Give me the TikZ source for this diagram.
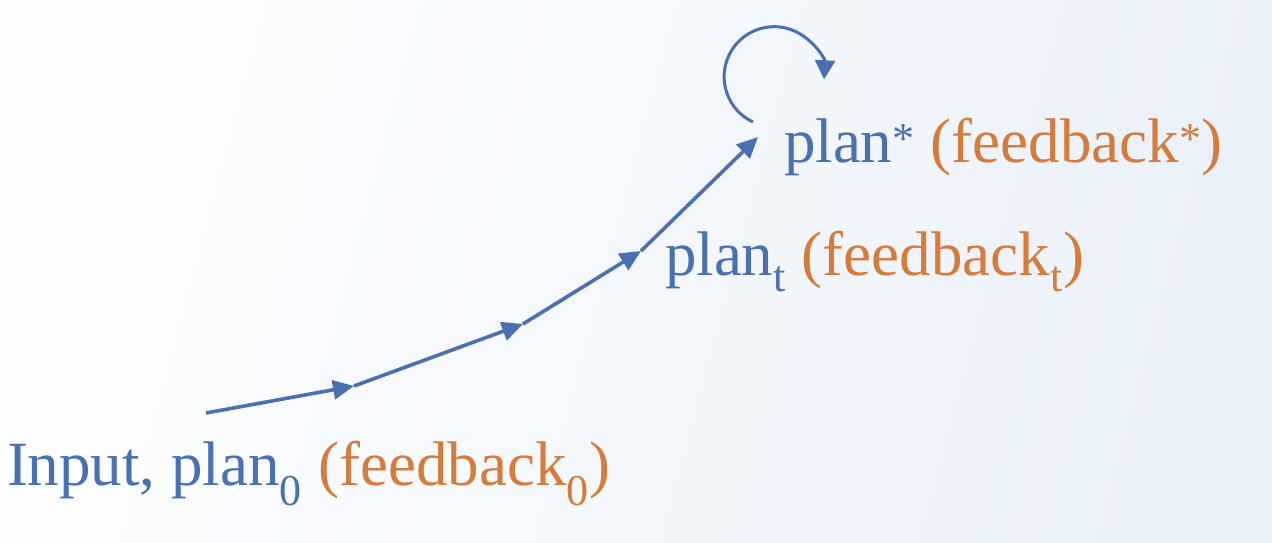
\documentclass[tikz,border=0pt]{standalone}
\usepackage{fontspec}
\setmainfont{Liberation Serif}
\usetikzlibrary{arrows.meta}
\definecolor{planblue}{HTML}{4A70B0}
\definecolor{fborange}{HTML}{D57C3C}
\definecolor{bgwhite}{HTML}{FDFEFF}
\definecolor{bgblue}{HTML}{EBF1F9}
\tikzset{
  lbl/.style={anchor=base west, inner sep=0pt, outer sep=0pt, font=\fontsize{63}{70}\selectfont, text=planblue},
  stepline/.style={draw=planblue, line width=3.6pt, -{Triangle[length=21pt,width=19pt]}},
  loopline/.style={draw=planblue, line width=3pt, -{Triangle[length=19pt,width=20pt]}}
}
\newcommand{\fb}[1]{\textcolor{fborange}{#1}}
\begin{document}
\begin{tikzpicture}[x=1pt,y=1pt]
\shade[left color=bgwhite, right color=bgblue, shading angle=75] (0,0) rectangle (1272,542);
\useasboundingbox (0,0) rectangle (1272,542);
% text nodes
\node[lbl] (in0) at (7,57) {Input, plan\textsubscript{0} \fb{(feedback\textsubscript{0})}};
\node[lbl] (pt) at (665,267) {plan\textsubscript{t} \fb{(feedback\textsubscript{t})}};
\node[lbl] (ps) at (784,379) {plan\textsuperscript{*} \fb{(feedback\textsuperscript{*})}};
% waypoints
\coordinate (s0) at (206,129);
\coordinate (a1) at (354,156);
\coordinate (a2) at (523,218);
\coordinate (a3) at (641,291);
\coordinate (a4) at (758,405);
\coordinate (l0) at (753,420);
\draw[stepline] (s0) -- (a1);
\draw[stepline] (a1) -- (a2);
\draw[stepline] (a2) -- (a3);
\draw[stepline] (a3) -- (a4);
\draw[loopline] (l0) arc[start angle=245, end angle=-3, radius=50];
\end{tikzpicture}
\end{document}
